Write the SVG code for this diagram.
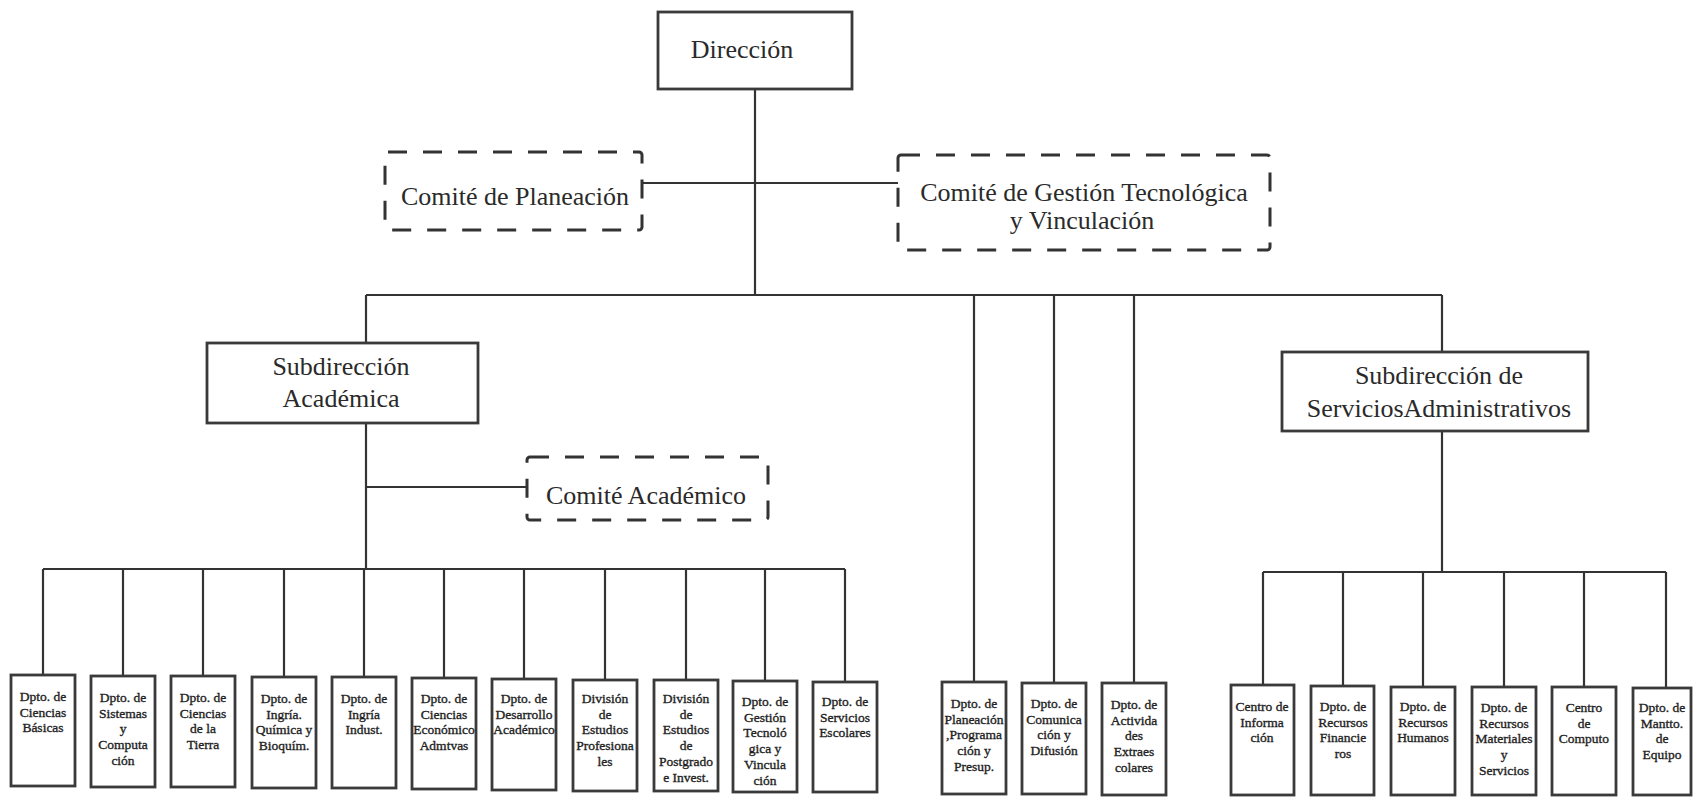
<svg xmlns="http://www.w3.org/2000/svg" width="1693" height="797" viewBox="0 0 1693 797">
<style>
.bg{fill:#fff}
.box{fill:#fff;stroke:#3a3a3a;stroke-width:2.8}
.dash{fill:none;stroke:#333;stroke-width:3;stroke-dasharray:19 16}
.big{font-family:"Liberation Serif","Times New Roman",serif;font-size:26px;fill:#2a2a2a;text-anchor:middle}
.sm{font-family:"Liberation Serif","Times New Roman",serif;font-size:13.5px;fill:#1e1e1e;stroke:#1e1e1e;stroke-width:0.35;text-anchor:middle}
.ln{stroke:#333;stroke-width:2.2;fill:none}
</style>
<rect class="bg" x="0" y="0" width="1693" height="797"/>
<g id="connectors">
<line class="ln" x1="755" y1="89" x2="755" y2="295"/>
<line class="ln" x1="642" y1="183" x2="898" y2="183"/>
<line class="ln" x1="366" y1="295" x2="1442" y2="295"/>
<line class="ln" x1="366" y1="295" x2="366" y2="343"/>
<line class="ln" x1="366" y1="423" x2="366" y2="569"/>
<line class="ln" x1="366" y1="487" x2="527" y2="487"/>
<line class="ln" x1="43" y1="569" x2="845" y2="569"/>
<line class="ln" x1="43" y1="569" x2="43" y2="675"/>
<line class="ln" x1="123" y1="569" x2="123" y2="676"/>
<line class="ln" x1="203" y1="569" x2="203" y2="676"/>
<line class="ln" x1="284" y1="569" x2="284" y2="677"/>
<line class="ln" x1="364" y1="569" x2="364" y2="677"/>
<line class="ln" x1="444" y1="569" x2="444" y2="678"/>
<line class="ln" x1="524" y1="569" x2="524" y2="679"/>
<line class="ln" x1="605" y1="569" x2="605" y2="680"/>
<line class="ln" x1="686" y1="569" x2="686" y2="680"/>
<line class="ln" x1="765" y1="569" x2="765" y2="681"/>
<line class="ln" x1="845" y1="569" x2="845" y2="682"/>
<line class="ln" x1="974" y1="295" x2="974" y2="682"/>
<line class="ln" x1="1054" y1="295" x2="1054" y2="683"/>
<line class="ln" x1="1134" y1="295" x2="1134" y2="683"/>
<line class="ln" x1="1442" y1="295" x2="1442" y2="352"/>
<line class="ln" x1="1442" y1="431" x2="1442" y2="572"/>
<line class="ln" x1="1263" y1="572" x2="1666" y2="572"/>
<line class="ln" x1="1263" y1="572" x2="1263" y2="685"/>
<line class="ln" x1="1343" y1="572" x2="1343" y2="686"/>
<line class="ln" x1="1423" y1="572" x2="1423" y2="687"/>
<line class="ln" x1="1504" y1="572" x2="1504" y2="687"/>
<line class="ln" x1="1584" y1="572" x2="1584" y2="687"/>
<line class="ln" x1="1666" y1="572" x2="1666" y2="688"/>
</g>
<g id="direccion"><rect class="box" x="658" y="12" width="194" height="77"/><text class="big" x="742" y="58">Dirección</text></g>
<g id="comite-planeacion"><rect class="dash" x="385" y="152" width="257" height="78" rx="3"/><text class="big" x="515" y="205">Comité de Planeación</text></g>
<g id="comite-gestion"><rect class="dash" x="898" y="155" width="372" height="95" rx="3"/><text class="big" x="1084" y="201">Comité de Gestión Tecnológica</text><text class="big" x="1082" y="229">y Vinculación</text></g>
<g id="sub-academica"><rect class="box" x="207" y="343" width="271" height="80"/><text class="big" x="341" y="375">Subdirección</text><text class="big" x="341" y="407">Académica</text></g>
<g id="comite-academico"><rect class="dash" x="527" y="457" width="241" height="63" rx="3"/><text class="big" x="646" y="504">Comité Académico</text></g>
<g id="sub-servicios"><rect class="box" x="1282" y="352" width="306" height="79"/><text class="big" x="1439" y="384">Subdirección de</text><text class="big" x="1439" y="417">ServiciosAdministrativos</text></g>

<g id="d1"><rect class="box" x="11" y="675" width="64" height="111"/><text class="sm" x="43" y="701"><tspan x="43">Dpto. de</tspan><tspan x="43" dy="15.7">Ciencias</tspan><tspan x="43" dy="15.7">Básicas</tspan></text></g>
<g id="d2"><rect class="box" x="91" y="676" width="64" height="111"/><text class="sm" x="123" y="702"><tspan x="123">Dpto. de</tspan><tspan x="123" dy="15.7">Sistemas</tspan><tspan x="123" dy="15.7">y</tspan><tspan x="123" dy="15.7">Computa</tspan><tspan x="123" dy="15.7">ción</tspan></text></g>
<g id="d3"><rect class="box" x="171" y="676" width="64" height="111"/><text class="sm" x="203" y="702"><tspan x="203">Dpto. de</tspan><tspan x="203" dy="15.7">Ciencias</tspan><tspan x="203" dy="15.7">de la</tspan><tspan x="203" dy="15.7">Tierra</tspan></text></g>
<g id="d4"><rect class="box" x="252" y="677" width="64" height="111"/><text class="sm" x="284" y="703"><tspan x="284">Dpto. de</tspan><tspan x="284" dy="15.7">Ingría.</tspan><tspan x="284" dy="15.7">Química y</tspan><tspan x="284" dy="15.7">Bioquím.</tspan></text></g>
<g id="d5"><rect class="box" x="332" y="677" width="64" height="111"/><text class="sm" x="364" y="703"><tspan x="364">Dpto. de</tspan><tspan x="364" dy="15.7">Ingría</tspan><tspan x="364" dy="15.7">Indust.</tspan></text></g>
<g id="d6"><rect class="box" x="412" y="678" width="64" height="111"/><text class="sm" x="444" y="703"><tspan x="444">Dpto. de</tspan><tspan x="444" dy="15.7">Ciencias</tspan><tspan x="444" dy="15.7">Económico</tspan><tspan x="444" dy="15.7">Admtvas</tspan></text></g>
<g id="d7"><rect class="box" x="492" y="679" width="64" height="111"/><text class="sm" x="524" y="703"><tspan x="524">Dpto. de</tspan><tspan x="524" dy="15.7">Desarrollo</tspan><tspan x="524" dy="15.7">Académico</tspan></text></g>
<g id="d8"><rect class="box" x="573" y="680" width="64" height="111"/><text class="sm" x="605" y="703"><tspan x="605">División</tspan><tspan x="605" dy="15.7">de</tspan><tspan x="605" dy="15.7">Estudios</tspan><tspan x="605" dy="15.7">Profesiona</tspan><tspan x="605" dy="15.7">les</tspan></text></g>
<g id="d9"><rect class="box" x="654" y="680" width="64" height="111"/><text class="sm" x="686" y="703"><tspan x="686">División</tspan><tspan x="686" dy="15.7">de</tspan><tspan x="686" dy="15.7">Estudios</tspan><tspan x="686" dy="15.7">de</tspan><tspan x="686" dy="15.7">Postgrado</tspan><tspan x="686" dy="15.7">e Invest.</tspan></text></g>
<g id="d10"><rect class="box" x="733" y="681" width="64" height="111"/><text class="sm" x="765" y="706"><tspan x="765">Dpto. de</tspan><tspan x="765" dy="15.7">Gestión</tspan><tspan x="765" dy="15.7">Tecnoló</tspan><tspan x="765" dy="15.7">gica y</tspan><tspan x="765" dy="15.7">Vincula</tspan><tspan x="765" dy="15.7">ción</tspan></text></g>
<g id="d11"><rect class="box" x="813" y="682" width="64" height="110"/><text class="sm" x="845" y="706"><tspan x="845">Dpto. de</tspan><tspan x="845" dy="15.7">Servicios</tspan><tspan x="845" dy="15.7">Escolares</tspan></text></g>

<g id="m1"><rect class="box" x="942" y="682" width="64" height="112"/><text class="sm" x="974" y="708"><tspan x="974">Dpto. de</tspan><tspan x="974" dy="15.7">Planeación</tspan><tspan x="974" dy="15.7">,Programa</tspan><tspan x="974" dy="15.7">ción y</tspan><tspan x="974" dy="15.7">Presup.</tspan></text></g>
<g id="m2"><rect class="box" x="1022" y="683" width="64" height="111"/><text class="sm" x="1054" y="708"><tspan x="1054">Dpto. de</tspan><tspan x="1054" dy="15.7">Comunica</tspan><tspan x="1054" dy="15.7">ción y</tspan><tspan x="1054" dy="15.7">Difusión</tspan></text></g>
<g id="m3"><rect class="box" x="1102" y="683" width="64" height="112"/><text class="sm" x="1134" y="709"><tspan x="1134">Dpto. de</tspan><tspan x="1134" dy="15.7">Activida</tspan><tspan x="1134" dy="15.7">des</tspan><tspan x="1134" dy="15.7">Extraes</tspan><tspan x="1134" dy="15.7">colares</tspan></text></g>

<g id="r1"><rect class="box" x="1231" y="685" width="63" height="110"/><text class="sm" x="1262" y="711"><tspan x="1262">Centro de</tspan><tspan x="1262" dy="15.7">Informa</tspan><tspan x="1262" dy="15.7">ción</tspan></text></g>
<g id="r2"><rect class="box" x="1311" y="686" width="63" height="109"/><text class="sm" x="1343" y="711"><tspan x="1343">Dpto. de</tspan><tspan x="1343" dy="15.7">Recursos</tspan><tspan x="1343" dy="15.7">Financie</tspan><tspan x="1343" dy="15.7">ros</tspan></text></g>
<g id="r3"><rect class="box" x="1391" y="687" width="64" height="108"/><text class="sm" x="1423" y="711"><tspan x="1423">Dpto. de</tspan><tspan x="1423" dy="15.7">Recursos</tspan><tspan x="1423" dy="15.7">Humanos</tspan></text></g>
<g id="r4"><rect class="box" x="1472" y="687" width="64" height="108"/><text class="sm" x="1504" y="712"><tspan x="1504">Dpto. de</tspan><tspan x="1504" dy="15.7">Recursos</tspan><tspan x="1504" dy="15.7">Materiales</tspan><tspan x="1504" dy="15.7">y</tspan><tspan x="1504" dy="15.7">Servicios</tspan></text></g>
<g id="r5"><rect class="box" x="1552" y="687" width="64" height="108"/><text class="sm" x="1584" y="712"><tspan x="1584">Centro</tspan><tspan x="1584" dy="15.7">de</tspan><tspan x="1584" dy="15.7">Computo</tspan></text></g>
<g id="r6"><rect class="box" x="1633" y="688" width="58" height="107"/><text class="sm" x="1662" y="712"><tspan x="1662">Dpto. de</tspan><tspan x="1662" dy="15.7">Mantto.</tspan><tspan x="1662" dy="15.7">de</tspan><tspan x="1662" dy="15.7">Equipo</tspan></text></g>
</svg>
